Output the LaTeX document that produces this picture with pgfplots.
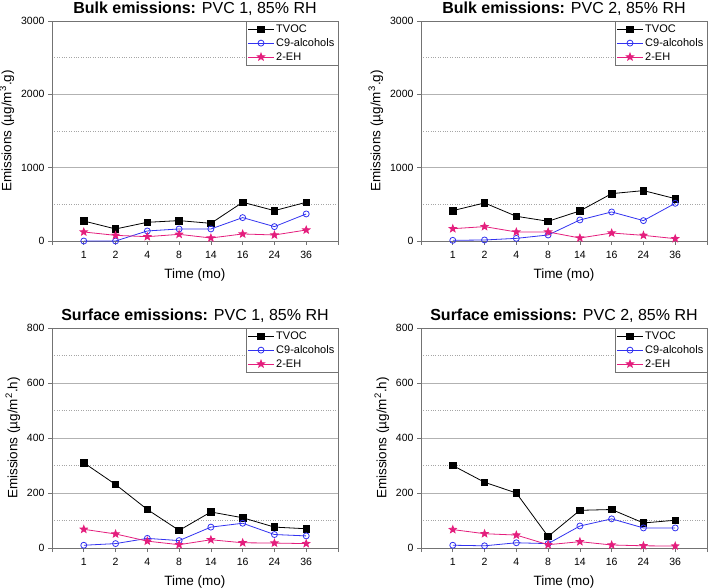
\documentclass[border=0pt]{standalone}
\usepackage{pgfplots}
\pgfplotsset{compat=1.18}
\usepackage{fontspec}
\setmainfont{Liberation Sans}
\definecolor{cblue}{RGB}{50,50,240}
\definecolor{cpink}{RGB}{228,30,125}
\definecolor{axgray}{RGB}{115,115,115}
\pgfdeclareplotmark{fstar}{%
  \pgfpathmoveto{\pgfpointpolar{90}{\pgfplotmarksize}}%
  \pgfpathlineto{\pgfpointpolar{126}{0.42\pgfplotmarksize}}%
  \pgfpathlineto{\pgfpointpolar{162}{\pgfplotmarksize}}%
  \pgfpathlineto{\pgfpointpolar{198}{0.42\pgfplotmarksize}}%
  \pgfpathlineto{\pgfpointpolar{234}{\pgfplotmarksize}}%
  \pgfpathlineto{\pgfpointpolar{270}{0.42\pgfplotmarksize}}%
  \pgfpathlineto{\pgfpointpolar{306}{\pgfplotmarksize}}%
  \pgfpathlineto{\pgfpointpolar{342}{0.42\pgfplotmarksize}}%
  \pgfpathlineto{\pgfpointpolar{18}{\pgfplotmarksize}}%
  \pgfpathlineto{\pgfpointpolar{54}{0.42\pgfplotmarksize}}%
  \pgfpathclose
  \pgfusepathqfillstroke}
\pgfplotsset{
  box/.style={scale only axis, width=286pt, height=220pt, xmin=-1, xmax=8, ymin=0},
  decor/.style={box, clip=false,
    xtick={-1,0,1,2,3,4,5,6,7,8},
    xticklabels={,1,2,4,8,14,16,24,36,},
    tick align=outside, xtick pos=left, ytick pos=left,
    major tick length=4pt, minor tick length=0pt,
    axis line style={draw=axgray, line width=0.7pt},
    major tick style={draw=axgray, line width=0.7pt},
    ymajorgrids, yminorgrids,
    major grid style={draw=black!30, line width=0.8pt},
    minor grid style={draw=black!35, dotted, line width=0.5pt},
    /pgf/number format/assume math mode=true,
    /pgf/number format/1000 sep={},
    tick label style={font=\fontsize{10.5}{12}\selectfont},
    xticklabel style={yshift=-3pt},
    label style={font=\fontsize{13.5}{15}\selectfont},
    xlabel={Time (mo)},
    xlabel style={yshift=-3pt},
    title style={font=\fontsize{16}{18}\selectfont, yshift=-4pt},
  },
  gridln/.style={black!30, line width=0.8pt, mark=none},
  frameln/.style={axgray, line width=0.7pt, mark=none},
  over/.style={box, hide axis, clip=false,
    legend style={at={(1,1)}, anchor=north east, draw=axgray,
      font=\fontsize{11}{12}\selectfont, row sep=0.5pt, inner sep=1.5pt,
      cells={anchor=west}},
    legend image code/.code={%
      \draw[mark repeat=2,mark phase=2] plot coordinates {(0cm,0cm) (0.45cm,0cm) (0.9cm,0cm)};},
    legend cell align=left,
  },
}
\begin{document}
\begin{tikzpicture}
\useasboundingbox (0,0) rectangle (709pt,587pt);
% ---------- Top-left ----------
\begin{axis}[decor, at={(52pt,346pt)}, anchor=south west,
  ymax=3000, ytick={0,1000,2000,3000}, minor ytick={500,1500,2500},
  ylabel={Emissions (µg/m\textsuperscript{3}.g)},
  title={\textbf{Bulk emissions:} PVC 1, 85\% RH}]
\addplot[gridln] coordinates {(-1,1000)(8,1000)};
\addplot[gridln] coordinates {(-1,2000)(8,2000)};
\addplot[frameln] coordinates {(-1,0)(8,0)(8,3000)(-1,3000)(-1,0)};
\end{axis}
\begin{axis}[over, at={(52pt,346pt)}, anchor=south west, ymax=3000]
\addplot[black, line width=0.8pt, mark=square*, mark size=3.3pt] coordinates {(0,273)(1,164)(2,255)(3,278)(4,241)(5,528)(6,414)(7,528)};
\addplot[cblue, line width=0.8pt, mark=o, mark size=3pt, mark options={fill=white}] coordinates {(0,0)(1,0)(2,137)(3,164)(4,164)(5,319)(6,196)(7,369)};
\addplot[cpink, line width=0.8pt, mark=fstar, mark size=3.8pt, mark options={fill=cpink}] coordinates {(0,123)(1,77)(2,59)(3,91)(4,41)(5,96)(6,82)(7,150)};
\legend{TVOC,C9-alcohols,2-EH}
\end{axis}
% ---------- Top-right ----------
\begin{axis}[decor, at={(421pt,346pt)}, anchor=south west,
  ymax=3000, ytick={0,1000,2000,3000}, minor ytick={500,1500,2500},
  ylabel={Emissions (µg/m\textsuperscript{3}.g)},
  title={\textbf{Bulk emissions:} PVC 2, 85\% RH}]
\addplot[gridln] coordinates {(-1,1000)(8,1000)};
\addplot[gridln] coordinates {(-1,2000)(8,2000)};
\addplot[frameln] coordinates {(-1,0)(8,0)(8,3000)(-1,3000)(-1,0)};
\end{axis}
\begin{axis}[over, at={(421pt,346pt)}, anchor=south west, ymax=3000]
\addplot[black, line width=0.8pt, mark=square*, mark size=3.3pt] coordinates {(0,414)(1,519)(2,337)(3,269)(4,410)(5,646)(6,687)(7,578)};
\addplot[cblue, line width=0.8pt, mark=o, mark size=3pt, mark options={fill=white}] coordinates {(0,9)(1,14)(2,36)(3,82)(4,287)(5,396)(6,278)(7,514)};
\addplot[cpink, line width=0.8pt, mark=fstar, mark size=3.8pt, mark options={fill=cpink}] coordinates {(0,168)(1,196)(2,123)(3,123)(4,41)(5,109)(6,77)(7,32)};
\legend{TVOC,C9-alcohols,2-EH}
\end{axis}
% ---------- Bottom-left ----------
\begin{axis}[decor, at={(52pt,39pt)}, anchor=south west,
  ymax=800, ytick={0,200,400,600,800}, minor ytick={100,300,500,700},
  ylabel={Emissions (µg/m\textsuperscript{2}.h)},
  title={\textbf{Surface emissions:} PVC 1, 85\% RH}]
\addplot[gridln] coordinates {(-1,200)(8,200)};
\addplot[gridln] coordinates {(-1,400)(8,400)};
\addplot[gridln] coordinates {(-1,600)(8,600)};
\addplot[frameln] coordinates {(-1,0)(8,0)(8,800)(-1,800)(-1,0)};
\end{axis}
\begin{axis}[over, at={(52pt,39pt)}, anchor=south west, ymax=800]
\addplot[black, line width=0.8pt, mark=square*, mark size=3.3pt] coordinates {(0,310)(1,231)(2,140)(3,64)(4,131)(5,110)(6,76)(7,70)};
\addplot[cblue, line width=0.8pt, mark=o, mark size=3pt, mark options={fill=white}] coordinates {(0,10)(1,16)(2,35)(3,27)(4,76)(5,90)(6,49)(7,44)};
\addplot[cpink, line width=0.8pt, mark=fstar, mark size=3.8pt, mark options={fill=cpink}] coordinates {(0,68)(1,51)(2,25)(3,12)(4,30)(5,19)(6,18)(7,16)};
\legend{TVOC,C9-alcohols,2-EH}
\end{axis}
% ---------- Bottom-right ----------
\begin{axis}[decor, at={(421pt,39pt)}, anchor=south west,
  ymax=800, ytick={0,200,400,600,800}, minor ytick={100,300,500,700},
  ylabel={Emissions (µg/m\textsuperscript{2}.h)},
  title={\textbf{Surface emissions:} PVC 2, 85\% RH}]
\addplot[gridln] coordinates {(-1,200)(8,200)};
\addplot[gridln] coordinates {(-1,400)(8,400)};
\addplot[gridln] coordinates {(-1,600)(8,600)};
\addplot[frameln] coordinates {(-1,0)(8,0)(8,800)(-1,800)(-1,0)};
\end{axis}
\begin{axis}[over, at={(421pt,39pt)}, anchor=south west, ymax=800]
\addplot[black, line width=0.8pt, mark=square*, mark size=3.3pt] coordinates {(0,300)(1,239)(2,200)(3,42)(4,137)(5,140)(6,91)(7,101)};
\addplot[cblue, line width=0.8pt, mark=o, mark size=3pt, mark options={fill=white}] coordinates {(0,10)(1,8)(2,19)(3,16)(4,80)(5,106)(6,73)(7,73)};
\addplot[cpink, line width=0.8pt, mark=fstar, mark size=3.8pt, mark options={fill=cpink}] coordinates {(0,67)(1,52)(2,47)(3,12)(4,23)(5,11)(6,8)(7,7)};
\legend{TVOC,C9-alcohols,2-EH}
\end{axis}
\end{tikzpicture}
\end{document}
